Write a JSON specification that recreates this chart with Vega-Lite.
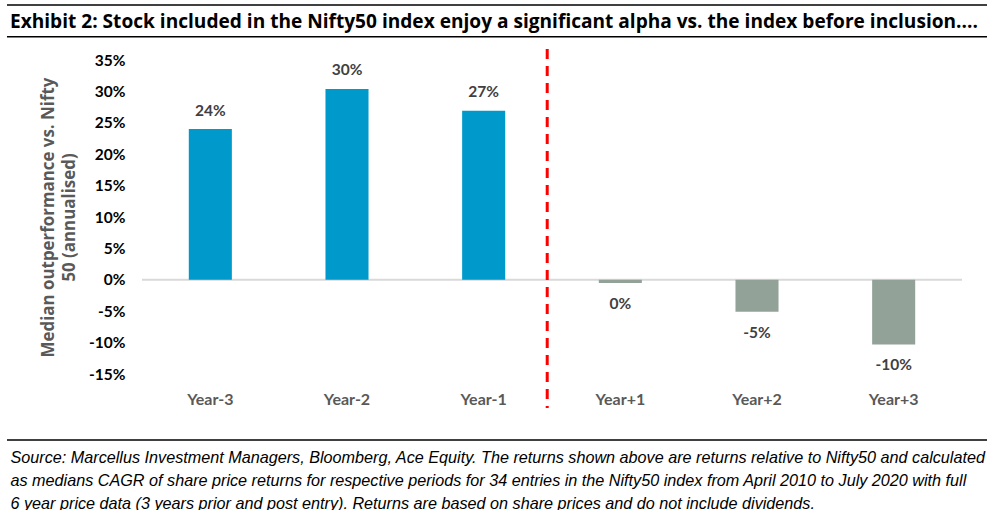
{
  "$schema": "https://vega.github.io/schema/vega-lite/v6.json",
  "width": 820,
  "height": 314,
  "autosize": {"type": "none"},
  "padding": {"left": 142, "top": 60, "right": 29, "bottom": 136},
  "background": "white",
  "title": {
    "text": "Exhibit 2: Stock included in the Nifty50 index enjoy a significant alpha vs. the index before inclusion....",
    "anchor": "start",
    "frame": "group",
    "dx": -132,
    "dy": 43,
    "font": "Open Sans",
    "fontSize": 19.1,
    "fontWeight": "bold",
    "color": "#000000",
    "baseline": "alphabetic",
    "offset": 0
  },
  "config": {"view": {"stroke": null}, "axis": {"labelOverlap": false}},
  "layer": [
    {
      "data": {"values": [{}]},
      "mark": {"type": "rule", "color": "#D9D9D9", "strokeWidth": 2},
      "encoding": {
        "y": {"datum": 0, "type": "quantitative", "scale": {"domain": [-0.15, 0.35], "nice": false, "zero": false}}
      }
    },
    {
      "data": {
        "values": [
          {"period": "Year-3", "value": 0.240, "label": "24%", "phase": "before"},
          {"period": "Year-2", "value": 0.304, "label": "30%", "phase": "before"},
          {"period": "Year-1", "value": 0.269, "label": "27%", "phase": "before"},
          {"period": "Year+1", "value": -0.005, "label": "0%", "phase": "after"},
          {"period": "Year+2", "value": -0.051, "label": "-5%", "phase": "after"},
          {"period": "Year+3", "value": -0.103, "label": "-10%", "phase": "after"}
        ]
      },
      "encoding": {
        "x": {
          "field": "period",
          "type": "nominal",
          "sort": null,
          "scale": {"paddingInner": 0.685, "paddingOuter": 0.3425},
          "axis": {
            "labelFont": "Lato",
            "labelFontWeight": "bold",
            "labelFontSize": 16,
            "labelColor": "#595959",
            "labelPadding": 17,
            "labelAngle": 0,
            "ticks": false,
            "domain": false,
            "title": [
              "Source: Marcellus Investment Managers, Bloomberg, Ace Equity. The returns shown above are returns relative to Nifty50 and calculated",
              "as medians CAGR of share price returns for respective periods for 34 entries in the Nifty50 index from April 2010 to July 2020 with full",
              "6 year price data (3 years prior and post entry). Returns are based on share prices and do not include dividends."
            ],
            "titleFont": "Liberation Sans",
            "titleFontStyle": "italic",
            "titleFontWeight": "normal",
            "titleFontSize": 16.2,
            "titleColor": "#000000",
            "titleAlign": "left",
            "titleAnchor": "start",
            "titleBaseline": "alphabetic",
            "titleX": -132,
            "titleY": 88,
            "titleLineHeight": 23
          }
        },
        "y": {
          "field": "value",
          "type": "quantitative",
          "scale": {"domain": [-0.15, 0.35], "nice": false, "zero": false},
          "axis": {
            "values": [-0.15, -0.1, -0.05, 0, 0.05, 0.1, 0.15, 0.2, 0.25, 0.3, 0.35],
            "tickCount": 20,
            "format": ".0%",
            "labelExpr": "replace(datum.label, '\u2212', '-')",
            "labelOverlap": false,
            "labelFont": "Lato",
            "labelFontWeight": "bold",
            "labelFontSize": 15.5,
            "labelColor": "#000000",
            "labelPadding": 17,
            "ticks": false,
            "domain": false,
            "grid": false,
            "title": ["Median outperformance vs. Nifty", "50 (annualised)"],
            "titleFont": "Open Sans",
            "titleFontWeight": "bold",
            "titleFontSize": 16.9,
            "titleColor": "#595959",
            "titleAngle": -90,
            "titleAlign": "center",
            "titleBaseline": "alphabetic",
            "titleX": -89,
            "titleY": 157,
            "titleLineHeight": 21
          }
        }
      },
      "layer": [
        {
          "mark": {"type": "bar"},
          "encoding": {
            "color": {
              "field": "phase",
              "type": "nominal",
              "scale": {"domain": ["before", "after"], "range": ["#0099CC", "#93A298"]},
              "legend": null
            }
          }
        },
        {
          "transform": [{"filter": "datum.value > 0"}],
          "mark": {"type": "text", "font": "Lato", "fontWeight": "bold", "fontSize": 15.5, "color": "#404040", "baseline": "alphabetic", "dy": -13.5},
          "encoding": {"text": {"field": "label"}}
        },
        {
          "transform": [{"filter": "datum.value <= 0"}],
          "mark": {"type": "text", "font": "Lato", "fontWeight": "bold", "fontSize": 15.5, "color": "#404040", "baseline": "alphabetic", "dy": 26},
          "encoding": {"text": {"field": "label"}}
        }
      ]
    },
    {
      "data": {"values": [{}]},
      "layer": [
        {
          "mark": {"type": "rule", "color": "#FF0000", "strokeWidth": 3, "strokeDash": [10, 7]},
          "encoding": {
            "x": {"datum": 2.965, "type": "quantitative", "scale": {"domain": [0, 6], "nice": false, "zero": false}, "axis": null},
            "y": {"datum": 0.3675, "type": "quantitative", "scale": {"domain": [-0.15, 0.35], "nice": false, "zero": false}},
            "y2": {"datum": -0.204}
          }
        },
        {
          "mark": {"type": "rule", "color": "#000000", "strokeWidth": 1.5},
          "encoding": {
            "x": {"datum": -0.988, "type": "quantitative", "scale": {"domain": [0, 6], "nice": false, "zero": false}, "axis": null},
            "x2": {"datum": 6.183},
            "y": {"datum": 0.4376, "type": "quantitative", "scale": {"domain": [-0.15, 0.35], "nice": false, "zero": false}}
          }
        },
        {
          "mark": {"type": "rule", "color": "#000000", "strokeWidth": 1.5},
          "encoding": {
            "x": {"datum": -0.988, "type": "quantitative", "scale": {"domain": [0, 6], "nice": false, "zero": false}, "axis": null},
            "x2": {"datum": 6.183},
            "y": {"datum": 0.387, "type": "quantitative", "scale": {"domain": [-0.15, 0.35], "nice": false, "zero": false}}
          }
        },
        {
          "mark": {"type": "rule", "color": "#000000", "strokeWidth": 1.5},
          "encoding": {
            "x": {"datum": -0.988, "type": "quantitative", "scale": {"domain": [0, 6], "nice": false, "zero": false}, "axis": null},
            "x2": {"datum": 6.183},
            "y": {"datum": -0.2551, "type": "quantitative", "scale": {"domain": [-0.15, 0.35], "nice": false, "zero": false}}
          }
        }
      ]
    }
  ],
  "resolve": {"scale": {"x": "independent"}, "axis": {"x": "independent"}}
}
